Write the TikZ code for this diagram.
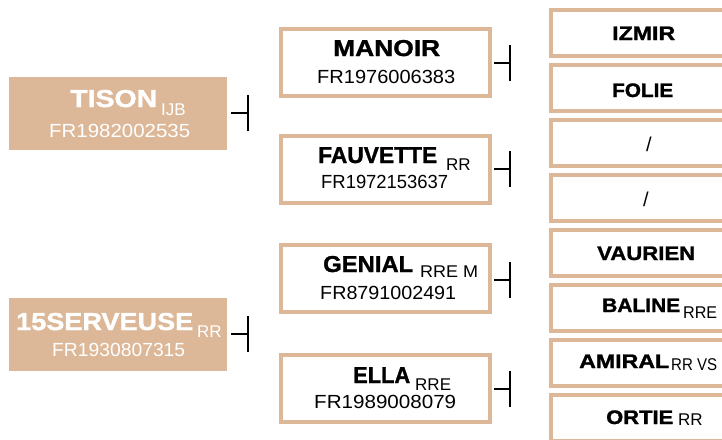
\documentclass[tikz,border=0pt]{standalone}
\usepackage{fontspec}
\usepackage{graphicx}
\setmainfont{Liberation Sans}
\newfontfamily\hfam[FakeBold=1.3]{Liberation Sans}
\definecolor{tan}{HTML}{DCB898}
\newcommand\bigname{\hfam\bfseries\fontsize{24.5}{25}\selectfont}
\newcommand\midname{\hfam\bfseries\fontsize{23}{24}\selectfont}
\newcommand\smallname{\hfam\bfseries\fontsize{19.5}{22}\selectfont}
\newcommand\fnum{\fontsize{19}{20}\selectfont}
\newcommand\fsub{\fontsize{17}{18}\selectfont}
\newcommand\fitw[2]{\resizebox{#1pt}{\height}{#2}}
\begin{document}
\begin{tikzpicture}[x=1pt,y=-1pt,
  tanbox/.style={fill=tan,draw=none,inner sep=0pt,minimum width=218pt,minimum height=73pt},
  framebox/.style={draw=tan,line width=4pt,fill=white,inner sep=0pt,minimum width=209pt,minimum height=67pt},
  rightbox/.style={draw=tan,line width=4pt,fill=white,inner sep=0pt,minimum width=189pt,minimum height=46pt},
  txt/.style={anchor=base west,inner sep=0pt},
  conn/.style={line width=1.6pt,draw=black}]
\useasboundingbox (0,0) rectangle (722,439);
\clip (0,0) rectangle (722,439);
% left boxes
\node[tanbox] (tison) at (118,113.5) {};
\node[tanbox] (serv) at (117.5,334.5) {};
\node[txt,text=white,font=\bigname] (tisonN) at (70,107) {\fitw{87}{TISON}};
\node[txt,text=white,font=\fsub] (tisonS) at (161,115) {IJB};
\node[txt,text=white,font=\fnum] (tisonF) at (49,137) {\fitw{141}{FR1982002535}};
\node[txt,text=white,font=\bigname] (servN) at (16,330) {\fitw{177}{15SERVEUSE}};
\node[txt,text=white,font=\fsub] (servS) at (197,337) {RR};
\node[txt,text=white,font=\fnum] (servF) at (52,356) {\fitw{133}{FR1930807315}};
% middle boxes
\node[framebox] (manoir) at (385.5,62.5) {};
\node[framebox] (fauv) at (385.5,169) {};
\node[framebox] (genial) at (385.5,278) {};
\node[framebox] (ella) at (385.5,388) {};
\node[txt,font=\midname] (manoirN) at (333,56) {\fitw{107}{MANOIR}};
\node[txt,font=\fnum] (manoirF) at (317,83) {\fitw{138}{FR1976006383}};
\node[txt,font=\midname] (fauvN) at (318,163) {\fitw{119}{FAUVETTE}};
\node[txt,font=\fsub] (fauvS) at (446,170) {RR};
\node[txt,font=\fnum] (fauvF) at (321,188) {\fitw{127}{FR1972153637}};
\node[txt,font=\midname] (genialN) at (323,272) {\fitw{90}{GENIAL}};
\node[txt,font=\fsub] (genialS) at (420,277) {\fitw{58}{RRE M}};
\node[txt,font=\fnum] (genialF) at (320,299) {\fitw{136}{FR8791002491}};
\node[txt,font=\midname] (ellaN) at (353,383) {\fitw{57}{ELLA}};
\node[txt,font=\fsub] (ellaS) at (415,390) {RRE};
\node[txt,font=\fnum] (ellaF) at (314,408) {\fitw{142}{FR1989008079}};
% right boxes
\foreach \k/\nm in {0/r0,1/r1,2/r2,3/r3,4/r4,5/r5,6/r6,7/r7}{
  \node[rightbox] (\nm) at (645.5,{33+55*\k}) {};
}
\node[txt,font=\smallname] (izmir) at (612,40) {\fitw{63}{IZMIR}};
\node[txt,font=\smallname] (folie) at (612,97) {\fitw{61}{FOLIE}};
\node[inner sep=0pt,font=\fontsize{20}{22}\selectfont] (sl1) at (649,144) {/};
\node[inner sep=0pt,font=\fontsize{20}{22}\selectfont] (sl2) at (646,199.5) {/};
\node[txt,font=\smallname] (vaur) at (597,260) {\fitw{98}{VAURIEN}};
\node[txt,font=\smallname] (baline) at (602,312) {\fitw{78}{BALINE}};
\node[txt,font=\fsub] (balineS) at (683,318) {\fitw{34}{RRE}};
\node[txt,font=\smallname] (amiral) at (579,368) {\fitw{90}{AMIRAL}};
\node[txt,font=\fsub] (amiralS) at (671,370) {\fitw{46}{RR VS}};
\node[txt,font=\smallname] (ortie) at (606,424) {\fitw{67}{ORTIE}};
\node[txt,font=\fsub] (ortieS) at (678,425) {RR};
% connectors
\coordinate (c1) at (248,113);
\coordinate (c2) at (248,334);
\coordinate (c3) at (510,63);
\coordinate (c4) at (510,169);
\coordinate (c5) at (510,280);
\coordinate (c6) at (510,389);
\draw[conn] ([xshift=4pt]tison.east |- c1) -- (c1);
\draw[conn] ([xshift=4pt]serv.east |- c2) -- (c2);
\draw[conn] ([xshift=2pt]manoir.east |- c3) -- (c3);
\draw[conn] ([xshift=2pt]fauv.east |- c4) -- (c4);
\draw[conn] ([xshift=2pt]genial.east |- c5) -- (c5);
\draw[conn] ([xshift=2pt]ella.east |- c6) -- (c6);
\foreach \c in {c1,c2,c3,c4,c5,c6}{
  \draw[conn] ([yshift=-18pt]\c) -- ([yshift=18pt]\c);
}
\end{tikzpicture}
\end{document}
